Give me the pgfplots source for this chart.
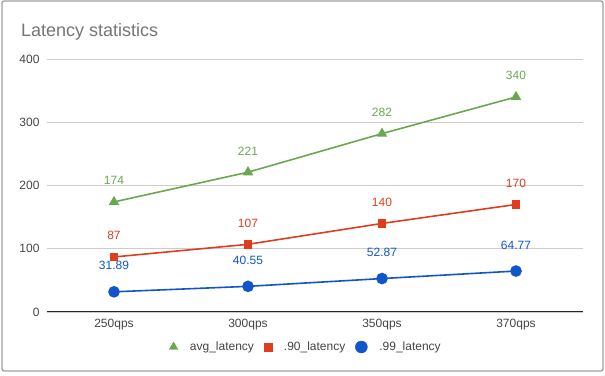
\documentclass[border=0pt]{standalone}
\usepackage{fontspec}
\setmainfont{Liberation Sans}
\usepackage{pgfplots}
\pgfplotsset{compat=1.18}
\definecolor{cgreen}{HTML}{6AA84F}
\definecolor{cred}{HTML}{DF3E1E}
\definecolor{cblue}{HTML}{1155CC}
\definecolor{cgrid}{HTML}{CCCCCC}
\definecolor{ctext}{HTML}{444444}
\definecolor{ctitle}{HTML}{757575}
\definecolor{cborder}{HTML}{A0A0A0}
\begin{document}
\begin{tikzpicture}
\begin{axis}[
  scale only axis,
  width=536pt, height=253pt,
  xmin=-0.5, xmax=3.5, ymin=0, ymax=400,
  xtick={0,1,2,3}, xticklabels={250qps,300qps,350qps,370qps},
  ytick={0,100,200,300,400},
  axis line style={draw=none},
  tick style={draw=none},
  ymajorgrids, grid style={cgrid, line width=0.8pt},
  /pgf/number format/assume math mode=true,
  tick label style={font=\fontsize{12}{14}\selectfont, text=ctext},
  xticklabel style={anchor=base, yshift=-16pt},
  yticklabel style={anchor=east, xshift=-4pt},
  clip=false,
  nodes near coords,
  every node near coord/.append style={font=\fontsize{12}{14}\selectfont, anchor=base},
  legend columns=3,
  legend image code/.code={\draw[#1] plot coordinates {(0pt,0pt)};},
  legend style={at={(0.5,0)}, anchor=center, xshift=-9pt, yshift=-35pt, draw=none, fill=none,
    font=\fontsize{12}{14}\selectfont, text=ctext,
    /tikz/every odd column/.append style={column sep=10pt},
    /tikz/every even column/.append style={column sep=8pt}},
  legend cell align=left,
]
\path ([shift={(-47pt,-64pt)}]rel axis cs:0,0) rectangle ([shift={(22pt,59pt)}]rel axis cs:1,1);
\draw[cborder, line width=1.3pt, rounded corners=2pt] ([shift={(-45pt,-59pt)}]rel axis cs:0,0) rectangle ([shift={(20pt,58pt)}]rel axis cs:1,1);
\node[anchor=base west, font=\fontsize{18}{20}\selectfont, text=ctitle, inner sep=0] at ([shift={(-26pt,275pt)}]rel axis cs:0,0) {Latency statistics};
\draw[black!85, line width=1pt] (axis cs:-0.5,0) -- (axis cs:3.5,0);
\addplot[cgreen, line width=1.6pt, mark=triangle*, mark size=4.5pt, forget plot,
  every node near coord/.append style={text=cgreen, yshift=17pt}] coordinates {(0,174) (1,221) (2,282) (3,340)};
\addplot[cred, line width=1.6pt, mark=square*, mark size=3.5pt, forget plot,
  every node near coord/.append style={text=cred, yshift=17pt}] coordinates {(0,87) (1,107) (2,140) (3,170)};
\addplot[cblue, line width=1.6pt, mark=*, mark size=5pt, forget plot,
  every node near coord/.append style={text=cblue, yshift=22pt}] coordinates {(0,31.89) (1,40.55) (2,52.87) (3,64.77)};
\addlegendimage{only marks, mark=triangle*, mark size=5pt, cgreen}
\addlegendentry{avg\_latency}
\addlegendimage{only marks, mark=square*, mark size=4pt, cred}
\addlegendentry{.90\_latency}
\addlegendimage{only marks, mark=*, mark size=6pt, cblue}
\addlegendentry{.99\_latency}
\end{axis}
\end{tikzpicture}
\end{document}
